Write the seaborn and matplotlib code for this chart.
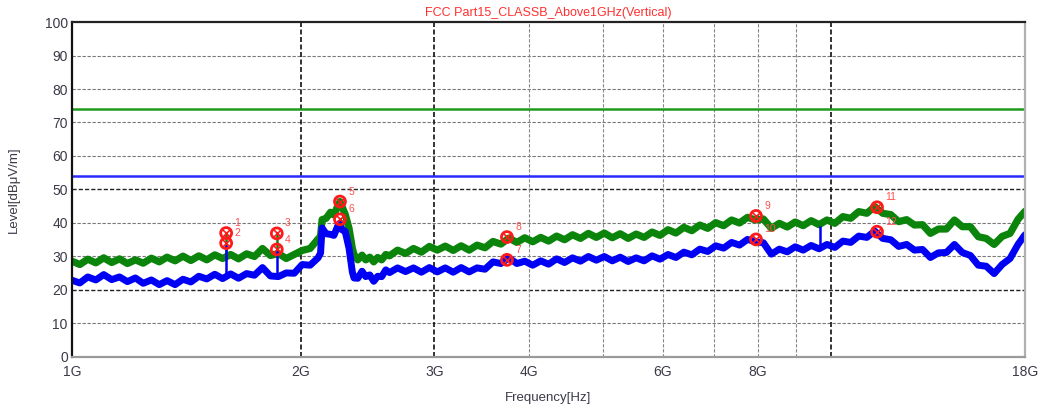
import matplotlib
matplotlib.use("Agg")
import matplotlib.pyplot as plt
import seaborn as sns

# frequency grid of the scan (GHz) and read-off levels (dBuV/m)
freq_ghz = [
    1.000, 1.024, 1.049, 1.075, 1.101, 1.128, 1.155, 1.183, 1.212, 1.241,
    1.272, 1.303, 1.334, 1.367, 1.400, 1.434, 1.469, 1.505, 1.542, 1.579,
    1.618, 1.657, 1.698, 1.739, 1.782, 1.825, 1.870, 1.915, 1.962, 2.010,
    2.059, 2.109, 2.125, 2.135, 2.161, 2.190, 2.213, 2.240, 2.254, 2.267,
    2.290, 2.317, 2.340, 2.352, 2.379, 2.410, 2.437, 2.467, 2.497, 2.527,
    2.558, 2.590, 2.620, 2.684, 2.750, 2.817, 2.885, 2.956, 3.028, 3.102,
    3.178, 3.255, 3.335, 3.416, 3.499, 3.585, 3.672, 3.762, 3.854, 3.948,
    4.044, 4.143, 4.244, 4.348, 4.454, 4.563, 4.674, 4.788, 4.905, 5.025,
    5.148, 5.273, 5.402, 5.534, 5.669, 5.808, 5.949, 6.095, 6.244, 6.396,
    6.552, 6.712, 6.876, 7.044, 7.216, 7.392, 7.572, 7.757, 7.947, 8.141,
    8.339, 8.543, 8.751, 8.965, 9.184, 9.408, 9.638, 9.873, 10.11, 10.36,
    10.61, 10.87, 11.14, 11.41, 11.69, 11.98, 12.27, 12.57, 12.87, 13.19,
    13.51, 13.84, 14.18, 14.53, 14.88, 15.25, 15.62, 16.00, 16.39, 16.79,
    17.20, 17.62, 18.00,
]
peak_level = [
    28.6, 27.6, 29.2, 28.1, 29.6, 28.2, 29.3, 27.9, 29.0, 28.0,
    29.5, 28.4, 29.8, 28.7, 30.1, 28.8, 30.2, 29.0, 30.5, 29.4,
    30.6, 29.3, 30.8, 30.0, 32.4, 30.3, 30.9, 29.4, 30.6, 31.8,
    32.4, 35.2, 36.0, 41.0, 41.4, 43.2, 42.4, 45.2, 46.4, 45.0,
    42.6, 38.4, 32.5, 30.6, 29.0, 30.4, 29.0, 29.8, 28.4, 29.7,
    29.0, 30.6, 30.2, 31.9, 30.9, 32.4, 31.3, 33.0, 31.9, 33.1,
    31.8, 33.2, 31.9, 33.4, 32.6, 34.5, 33.7, 35.5, 34.2, 35.6,
    34.4, 35.7, 34.6, 36.1, 35.0, 36.5, 35.4, 36.9, 35.7, 37.0,
    35.6, 36.8, 35.4, 36.7, 35.7, 37.3, 36.3, 38.0, 37.0, 38.7,
    37.7, 39.4, 38.4, 40.1, 39.2, 40.9, 40.0, 41.7, 40.9, 41.2,
    38.4, 39.9, 38.8, 40.3, 39.2, 40.7, 39.5, 40.9, 39.9, 41.9,
    41.4, 43.4, 42.9, 44.9, 42.9, 42.5, 40.4, 41.0, 39.4, 39.5,
    36.9, 38.2, 38.2, 40.9, 38.9, 38.9, 35.9, 35.4, 33.6, 36.0,
    36.9, 41.1, 43.5,
]
avg_level = [
    22.9, 22.1, 23.9, 23.0, 24.6, 23.1, 23.9, 22.5, 23.6, 22.0,
    23.0, 21.6, 22.8, 21.6, 23.2, 22.4, 24.1, 23.3, 24.7, 23.4,
    24.8, 23.5, 24.9, 24.4, 26.7, 24.2, 24.0, 25.1, 25.0, 27.6,
    27.4, 29.6, 31.0, 38.5, 36.8, 36.6, 36.3, 39.2, 40.0, 38.0,
    37.5, 32.4, 25.4, 23.6, 23.5, 25.6, 24.0, 24.5, 22.6, 24.1,
    24.0, 26.0, 25.2, 26.6, 25.5, 26.6, 25.3, 26.7, 25.4, 26.6,
    25.3, 26.7, 25.4, 26.6, 26.2, 28.4, 27.9, 29.6, 27.9, 28.6,
    27.4, 28.7, 27.7, 29.3, 28.2, 29.6, 28.6, 30.0, 28.9, 30.0,
    28.7, 29.8, 28.5, 29.6, 28.7, 30.2, 29.2, 30.6, 29.7, 31.3,
    30.5, 32.2, 31.5, 33.2, 32.5, 34.2, 33.4, 35.1, 34.4, 34.1,
    30.7, 32.2, 31.4, 32.9, 31.9, 33.3, 32.3, 33.6, 32.7, 34.6,
    34.2, 36.1, 35.7, 37.6, 35.4, 35.0, 33.0, 33.6, 31.9, 32.1,
    29.7, 31.1, 31.2, 33.6, 31.2, 30.3, 27.4, 27.1, 24.9, 27.6,
    29.4, 33.6, 36.5,
]

# narrow spikes on the traces
spike_freq = [1.596, 1.861, 1.596, 1.861, 9.67]
spike_base = [30.0, 30.0, 24.0, 24.0, 32.5]
spike_top = [37.0, 37.0, 33.5, 32.0, 39.0]
spike_trace = ["peak", "peak", "avg", "avg", "avg"]

# limits
peak_limit = 74
avg_limit = 54

# marked points
marker_no = [1, 2, 3, 4, 5, 6, 7, 8, 9, 10, 11, 12]
marker_freq = [1.596, 1.596, 1.861, 1.861, 2.254, 2.254,
               3.74, 3.74, 7.96, 7.96, 11.49, 11.49]
marker_level = [37.0, 34.0, 36.9, 32.1, 46.4, 41.1,
                29.0, 35.8, 42.1, 35.1, 44.7, 37.4]

xtick_vals = [1, 2, 3, 4, 6, 8, 18]
xtick_text = ["1G", "2G", "3G", "4G", "6G", "8G", "18G"]
xminor_vals = [5, 7, 9]
xheavy_vals = [2, 3, 10]
ytick_vals = list(range(0, 101, 10))
yheavy_vals = [20, 50]

sns.set_style("white")
plt.rcParams["font.family"] = ["Liberation Sans", "DejaVu Sans"]

GREEN = "#0b840b"
BLUE = "#0000f5"
TXT = "#3a3a48"

fig = plt.figure(figsize=(10.45, 4.12), dpi=100)
ax = fig.add_axes([0.0689, 0.1335, 0.912, 0.8131])

ax.set_xscale("log")
ax.set_xlim(1, 18)
ax.set_ylim(0, 100)

# grid
for y in ytick_vals[1:-1]:
    heavy = y in yheavy_vals
    ax.axhline(y, color="#222222" if heavy else "#777777",
               lw=1.0 if heavy else 0.8, ls=(0, (3, 1.5)), zorder=1)
for x in xtick_vals[1:-1] + xminor_vals + [10]:
    heavy = x in xheavy_vals
    ax.axvline(x, color="#111111" if heavy else "#888888",
               lw=1.2 if heavy else 0.8, ls=(0, (3, 1.5)), zorder=1)

# limit lines
ax.axhline(peak_limit, color="#1f9a1f", lw=1.8, zorder=2)
ax.axhline(avg_limit, color="#2a2aff", lw=1.8, zorder=2)

# traces
sns.lineplot(x=freq_ghz, y=peak_level, color=GREEN, lw=5.2,
             estimator=None, sort=False, ax=ax, zorder=3)
sns.lineplot(x=freq_ghz, y=avg_level, color=BLUE, lw=5.0,
             estimator=None, sort=False, ax=ax, zorder=4)
for f, b0, b1, t in zip(spike_freq, spike_base, spike_top, spike_trace):
    ax.vlines(f, b0, b1, colors=GREEN if t == "peak" else BLUE,
              lw=1.8, zorder=3 if t == "peak" else 4)

# markers
ax.scatter(marker_freq, marker_level, marker="o", s=62, facecolors="none",
           edgecolors="#ff1a1a", linewidths=2.0, zorder=6)
ax.scatter(marker_freq, marker_level, marker="x", s=30, c="#ff1a1a",
           linewidths=1.2, zorder=6)
for n, f, lv in zip(marker_no, marker_freq, marker_level):
    ax.annotate(str(n), (f, lv), xytext=(6, 5), textcoords="offset points",
                fontsize=7.5, color="#ff5050", zorder=7)

# ticks
ax.set_xticks(xtick_vals)
ax.set_xticklabels(xtick_text)
ax.set_xticks([], minor=True)
ax.set_yticks(ytick_vals)
ax.tick_params(axis="both", length=0, labelsize=10, labelcolor=TXT)
ax.tick_params(axis="x", pad=6)
ax.tick_params(axis="y", pad=3)

ax.set_xlabel("Frequency[Hz]", fontsize=9.5, color=TXT, labelpad=9)
ax.set_ylabel("Level[dB\u03bcV/m]", fontsize=9.5, color=TXT, labelpad=18)
ax.set_title("FCC Part15_CLASSB_Above1GHz(Vertical)", fontsize=9,
             color="#ff3030", pad=4)

# bevelled frame
ax.spines["top"].set_color("#222222")
ax.spines["left"].set_color("#111111")
ax.spines["bottom"].set_color("#9a9a9a")
ax.spines["right"].set_color("#b0b0b0")
for s in ax.spines.values():
    s.set_linewidth(1.6)
    s.set_zorder(8)

fig.savefig("out.png", dpi=100)
